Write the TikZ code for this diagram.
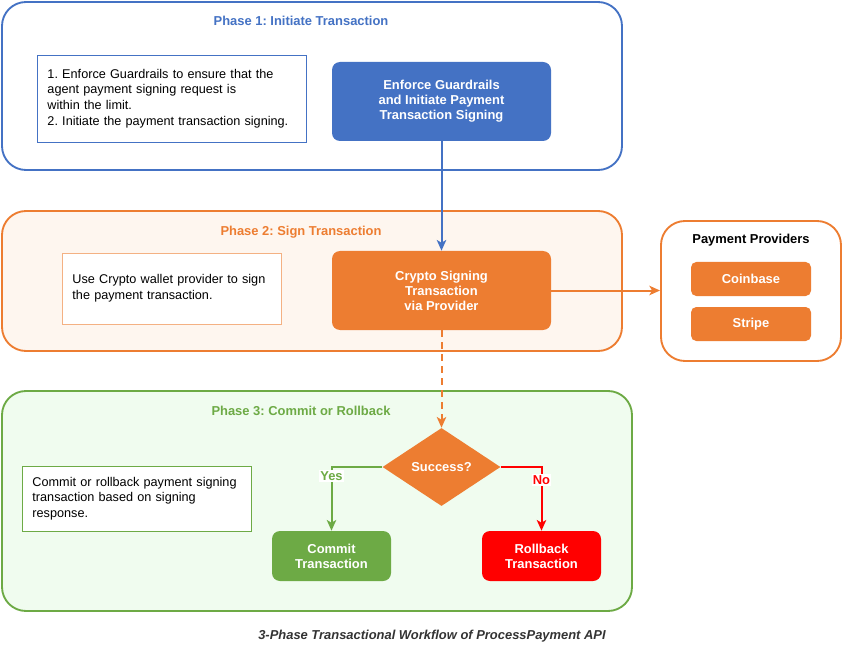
\documentclass[tikz,border=0pt]{standalone}
\usepackage{fontspec}
\setmainfont{Liberation Sans}
\usetikzlibrary{shapes.geometric,arrows.meta}
\definecolor{pblue}{HTML}{4472C4}
\definecolor{porange}{HTML}{ED7D31}
\definecolor{pgreen}{HTML}{6DAA45}
\definecolor{pred}{HTML}{FF0000}
\definecolor{porangebg}{HTML}{FEF6EF}
\definecolor{pgreenbg}{HTML}{F0FCEF}
\definecolor{notebord}{HTML}{F4B183}
\definecolor{captext}{HTML}{333333}
\tikzset{
  phase/.style={draw, rounded corners=18pt, line width=1.4pt},
  note/.style={draw, fill=white, line width=0.7pt, align=left, inner xsep=10*0.75pt,
    font=\fontsize{9.5}{11.8}\selectfont},
  stepbox/.style={rounded corners=6pt, text=white, align=center,
    font=\fontsize{9.7}{11.3}\selectfont\bfseries},
  title/.style={font=\fontsize{9.7}{11}\selectfont\bfseries},
  flowline/.style={line width=1.5pt, -{Stealth[length=8pt,width=7pt,inset=2pt]}},
  edgelabel/.style={fill=white, inner sep=1pt, font=\fontsize{9.7}{11}\selectfont\bfseries}
}
\begin{document}
\frenchspacing
\begin{tikzpicture}[x=0.75pt, y=-0.75pt]
    \useasboundingbox (0,0) rectangle (842,652);

    % phase containers
    \node[phase, draw=pblue, fill=white, minimum width=620*0.75pt, minimum height=168*0.75pt] (p1) at (312,86) {};
    \node[phase, draw=porange, fill=porangebg, minimum width=620*0.75pt, minimum height=140*0.75pt] (p2) at (312,281) {};
    \node[phase, draw=pgreen, fill=pgreenbg, minimum width=630*0.75pt, minimum height=220*0.75pt] (p3) at (317,501) {};
    \node[phase, draw=porange, fill=white, minimum width=180*0.75pt, minimum height=140*0.75pt] (prov) at (751,291) {};

    \node[title, text=pblue] (t1) at (301,21) {Phase 1: Initiate Transaction};
    \node[title, text=porange] (t2) at (301,232) {Phase 2: Sign Transaction};
    \node[title, text=pgreen] (t3) at (301,411) {Phase 3: Commit or Rollback};
    \node[title] (tprov) at (751,240) {Payment Providers};

    % notes
    \node[note, draw=pblue, anchor=west, text width=249*0.75pt, minimum height=87*0.75pt] (n1) at (37,98.5)
      {1. Enforce Guardrails to ensure that the\\agent payment signing request is\\within the limit.\\2. Initiate the payment transaction signing.};
    \node[note, draw=notebord, anchor=west, text width=199*0.75pt, minimum height=71*0.75pt] (n2) at (62,288.5)
      {Use Crypto wallet provider to sign\\the payment transaction.};
    \node[note, draw=pgreen, anchor=west, text width=209*0.75pt, minimum height=65*0.75pt] (n3) at (22,498.5)
      {Commit or rollback payment signing\\transaction based on signing\\response.};

    % steps
    \node[stepbox, fill=pblue, minimum width=219*0.75pt, minimum height=79*0.75pt] (init) at (441.5,101.5)
      {Enforce Guardrails\\and Initiate Payment\\Transaction Signing};
    \node[stepbox, fill=porange, minimum width=219*0.75pt, minimum height=79*0.75pt] (sign) at (441.5,290.5)
      {Crypto Signing\\Transaction\\via Provider};
    \node[stepbox, fill=porange, rounded corners=4pt, minimum width=120*0.75pt, minimum height=34*0.75pt] (coinbase) at (751,279) {Coinbase};
    \node[stepbox, fill=porange, rounded corners=4pt, minimum width=120*0.75pt, minimum height=34*0.75pt] (stripe) at (751,324) {Stripe};
    \node[diamond, fill=porange, text=white, inner sep=0pt, shape aspect=1.5,
      minimum width=118*0.75pt, minimum height=78*0.75pt, font=\fontsize{9.7}{11}\selectfont\bfseries] (success) at (441.5,467) {Success?};
    \node[stepbox, fill=pgreen, minimum width=119*0.75pt, minimum height=50*0.75pt] (commit) at (331.5,556) {Commit\\Transaction};
    \node[stepbox, fill=pred, minimum width=119*0.75pt, minimum height=50*0.75pt] (rollback) at (541.5,556) {Rollback\\Transaction};

    % connectors
    \draw[flowline, color=pblue] (init) -- (sign);
    \draw[flowline, color=porange] (sign.east) -- (sign.east -| prov.west);
    \draw[flowline, color=porange, dash pattern=on 5pt off 4pt] (sign) -- (success);
    \draw[flowline, color=pgreen] (success.west) -| (commit.north)
      node[edgelabel, pos=0.57, text=pgreen] {Yes};
    \draw[flowline, color=pred] (success.east) -| (rollback.north)
      node[edgelabel, pos=0.6, text=pred] {No};

    \node[font=\fontsize{9.7}{11}\selectfont\bfseries\itshape, text=captext] (caption) at (432,636)
      {3-Phase Transactional Workflow of ProcessPayment API};
\end{tikzpicture}
\end{document}
